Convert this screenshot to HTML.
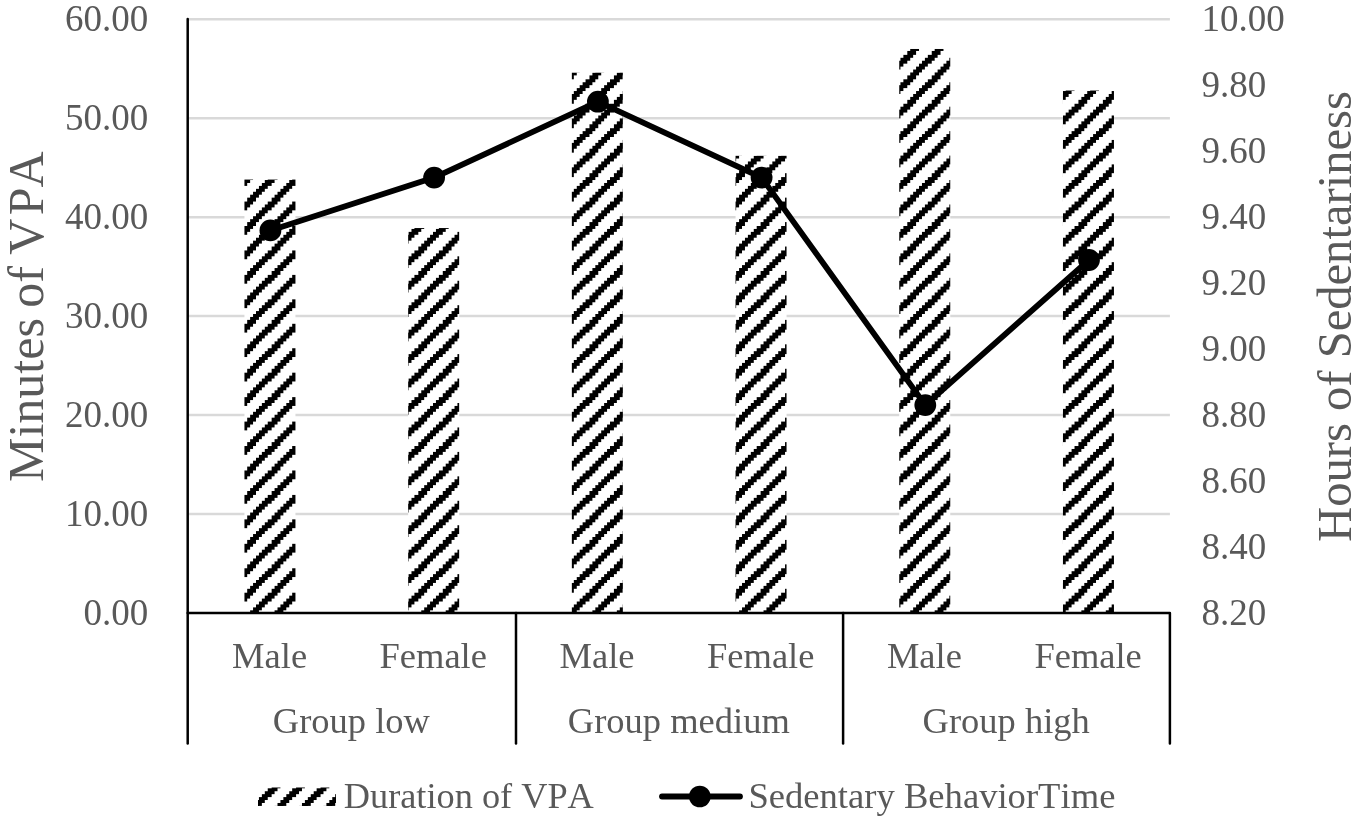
<!DOCTYPE html>
<html lang="en"><head><meta charset="utf-8"><title>Chart</title>
<style>html,body{margin:0;padding:0;background:#fff;}svg{display:block;will-change:transform;}text{font-family:"Liberation Serif","Times New Roman",serif;fill:#595959;font-kerning:none;}</style>
</head><body>
<svg width="1356" height="822" viewBox="0 0 1356 822">
<rect width="1356" height="822" fill="#fff"/>
<defs><pattern id="hatch" width="8" height="8" patternUnits="userSpaceOnUse" patternTransform="translate(14.45 17.70) scale(3.0560)">
<rect x="-1" y="-1" width="10" height="10" fill="#fff"/>
<polygon points="-11,11 -11,10 -10,10 -10,9 -9,9 -9,8 -8,8 -8,7 -7,7 -7,6 -6,6 -6,5 -5,5 -5,4 -4,4 -4,3 -3,3 -3,2 -2,2 -2,1 -1,1 -1,0 0,0 0,-1 1,-1 1,-2 4,-2 4,-1 3,-1 3,0 2,0 2,1 1,1 1,2 0,2 0,3 -1,3 -1,4 -2,4 -2,5 -3,5 -3,6 -4,6 -4,7 -5,7 -5,8 -6,8 -6,9 -7,9 -7,10 -8,10 -8,11" fill="#000" shape-rendering="crispEdges"/>
<polygon points="-3,11 -3,10 -2,10 -2,9 -1,9 -1,8 0,8 0,7 1,7 1,6 2,6 2,5 3,5 3,4 4,4 4,3 5,3 5,2 6,2 6,1 7,1 7,0 8,0 8,-1 9,-1 9,-2 12,-2 12,-1 11,-1 11,0 10,0 10,1 9,1 9,2 8,2 8,3 7,3 7,4 6,4 6,5 5,5 5,6 4,6 4,7 3,7 3,8 2,8 2,9 1,9 1,10 0,10 0,11" fill="#000" shape-rendering="crispEdges"/>
<polygon points="5,11 5,10 6,10 6,9 7,9 7,8 8,8 8,7 9,7 9,6 10,6 10,5 11,5 11,4 12,4 12,3 13,3 13,2 14,2 14,1 15,1 15,0 16,0 16,-1 17,-1 17,-2 20,-2 20,-1 19,-1 19,0 18,0 18,1 17,1 17,2 16,2 16,3 15,3 15,4 14,4 14,5 13,5 13,6 12,6 12,7 11,7 11,8 10,8 10,9 9,9 9,10 8,10 8,11" fill="#000" shape-rendering="crispEdges"/>
</pattern></defs>
<line x1="187.7" y1="19.30" x2="1169.9" y2="19.30" stroke="#d9d9d9" stroke-width="2.5"/>
<line x1="187.7" y1="118.23" x2="1169.9" y2="118.23" stroke="#d9d9d9" stroke-width="2.5"/>
<line x1="187.7" y1="217.17" x2="1169.9" y2="217.17" stroke="#d9d9d9" stroke-width="2.5"/>
<line x1="187.7" y1="316.10" x2="1169.9" y2="316.10" stroke="#d9d9d9" stroke-width="2.5"/>
<line x1="187.7" y1="415.03" x2="1169.9" y2="415.03" stroke="#d9d9d9" stroke-width="2.5"/>
<line x1="187.7" y1="513.97" x2="1169.9" y2="513.97" stroke="#d9d9d9" stroke-width="2.5"/>
<rect x="244.45" y="179.57" width="51.00" height="433.33" fill="url(#hatch)"/>
<rect x="408.15" y="228.05" width="51.00" height="384.85" fill="url(#hatch)"/>
<rect x="571.85" y="72.72" width="51.00" height="540.18" fill="url(#hatch)"/>
<rect x="735.55" y="155.83" width="51.00" height="457.07" fill="url(#hatch)"/>
<rect x="899.25" y="48.98" width="51.00" height="563.92" fill="url(#hatch)"/>
<rect x="1062.95" y="90.53" width="51.00" height="522.37" fill="url(#hatch)"/>
<g stroke="#000" stroke-width="2.5" fill="none" stroke-linecap="round" stroke-linejoin="round">
<path d="M187.7 19.0V743.5"/>
<path d="M187.7 612.9H1169.9V743.5"/>
<path d="M516.0 612.9V743.5"/>
<path d="M843.1 612.9V743.5"/>
</g>
<polyline fill="none" stroke="#000" stroke-width="5.8" stroke-linejoin="round" points="270.4,230.4 434.1,177.6 597.9,101.7 761.6,177.6 925.3,405.1 1089.0,260.0"/>
<circle cx="270.4" cy="230.4" r="10.9" fill="#000"/>
<circle cx="434.1" cy="177.6" r="10.9" fill="#000"/>
<circle cx="597.9" cy="101.7" r="10.9" fill="#000"/>
<circle cx="761.6" cy="177.6" r="10.9" fill="#000"/>
<circle cx="925.3" cy="405.1" r="10.9" fill="#000"/>
<circle cx="1089.0" cy="260.0" r="10.9" fill="#000"/>
<text x="148.2" y="31.4" font-size="37" text-anchor="end">60.00</text>
<text x="148.2" y="130.3" font-size="37" text-anchor="end">50.00</text>
<text x="148.2" y="229.3" font-size="37" text-anchor="end">40.00</text>
<text x="148.2" y="328.2" font-size="37" text-anchor="end">30.00</text>
<text x="148.2" y="427.1" font-size="37" text-anchor="end">20.00</text>
<text x="148.2" y="526.1" font-size="37" text-anchor="end">10.00</text>
<text x="148.2" y="625.0" font-size="37" text-anchor="end">0.00</text>
<text x="1201.4" y="31.4" font-size="37">10.00</text>
<text x="1201.4" y="97.4" font-size="37">9.80</text>
<text x="1201.4" y="163.3" font-size="37">9.60</text>
<text x="1201.4" y="229.3" font-size="37">9.40</text>
<text x="1201.4" y="295.2" font-size="37">9.20</text>
<text x="1201.4" y="361.2" font-size="37">9.00</text>
<text x="1201.4" y="427.1" font-size="37">8.80</text>
<text x="1201.4" y="493.1" font-size="37">8.60</text>
<text x="1201.4" y="559.0" font-size="37">8.40</text>
<text x="1201.4" y="625.0" font-size="37">8.20</text>
<text transform="translate(269.6 667.9) scale(1.034 1)" font-size="35.3" text-anchor="middle">Male</text>
<text transform="translate(433.2 667.9) scale(1.034 1)" font-size="35.3" text-anchor="middle">Female</text>
<text transform="translate(597.0 667.9) scale(1.034 1)" font-size="35.3" text-anchor="middle">Male</text>
<text transform="translate(760.7 667.9) scale(1.034 1)" font-size="35.3" text-anchor="middle">Female</text>
<text transform="translate(924.4 667.9) scale(1.034 1)" font-size="35.3" text-anchor="middle">Male</text>
<text transform="translate(1088.1 667.9) scale(1.034 1)" font-size="35.3" text-anchor="middle">Female</text>
<text transform="translate(351.4 733.2) scale(1.034 1)" font-size="35.3" text-anchor="middle">Group low</text>
<text transform="translate(678.8 733.2) scale(1.034 1)" font-size="35.3" text-anchor="middle">Group medium</text>
<text transform="translate(1006.2 733.2) scale(1.034 1)" font-size="35.3" text-anchor="middle">Group high</text>
<text transform="translate(42.8 482) rotate(-90)" font-size="50">Minutes<tspan dx="-2.2"> of</tspan><tspan dx="-1.2"> V</tspan><tspan dx="3.4">PA</tspan></text>
<text transform="translate(1351 541.9) rotate(-90)" font-size="48.6">Hours of Sedentariness</text>
<rect x="258" y="787.5" width="78" height="18.5" fill="url(#hatch)"/>
<text x="343.8" y="808.1" font-size="35.3" textLength="250" lengthAdjust="spacingAndGlyphs">Duration of VPA</text>
<line x1="662" y1="796.5" x2="740" y2="796.5" stroke="#000" stroke-width="5.8" stroke-linecap="round"/>
<circle cx="699.8" cy="796.5" r="10.8" fill="#000"/>
<text x="748.4" y="808.1" font-size="35.3" textLength="367" lengthAdjust="spacingAndGlyphs">Sedentary BehaviorTime</text>
</svg></body></html>
